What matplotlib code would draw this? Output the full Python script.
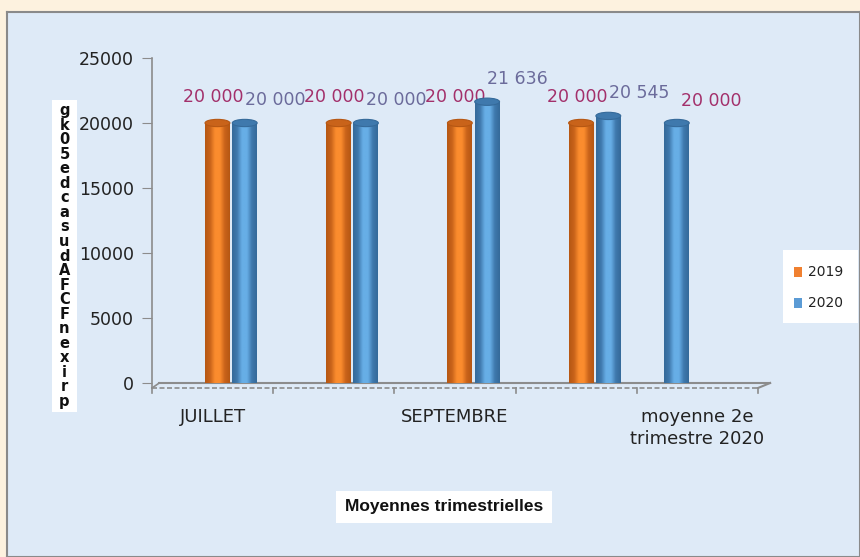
#!/usr/bin/env python3
"""Prix moyen du sac — moyennes trimestrielles 2019 / 2020 (barres cylindriques)."""

import numpy as np
import matplotlib.pyplot as plt
from matplotlib.patches import Rectangle, Ellipse
from matplotlib.colors import LinearSegmentedColormap

plt.rcParams['font.family'] = ['DejaVu Sans']

# ── données ─────────────────────────────────────────────
categories = ['JUILLET', 'AOUT', 'SEPTEMBRE', 'moyenne 3e trimestre',
              'moyenne 2e\ntrimestre 2020']
vals_2019 = [20000, 20000, 20000, 20000, None]
vals_2020 = [20000, 20000, 21636, 20545, None]
trim2_2020 = 20000          # seule valeur de la dernière catégorie
trim2_index = 4
y_ticks = [0, 5000, 10000, 15000, 20000, 25000]
ylabel_txt = 'prix en FCFA du sac de 50 kg'

W, H, DPI = 860, 557, 100
ORANGE = ('#b65713', '#fb8c2e', '#c9631a')
BLUE = ('#356a9a', '#67aee6', '#3f79ad')
LBL_19 = '#a3306b'
LBL_20 = '#6b6b9b'


def px(x, y, w, h):
    """rectangle en pixels (origine en haut à gauche) -> coord. figure"""
    return [x / W, 1 - (y + h) / H, w / W, h / H]


def cylinder(ax, xc, val, width, cols):
    lo, hi = xc - width / 2, xc + width / 2
    dark, light, mid = cols
    cmap = LinearSegmentedColormap.from_list('c', [dark, mid, light, light, mid, dark])
    rect = Rectangle((lo, 0), width, val, fc='none', ec='none')
    ax.add_patch(rect)
    grad = np.linspace(0, 1, 64).reshape(1, -1)
    im = ax.imshow(grad, cmap=cmap, aspect='auto', extent=(lo, hi, 0, val),
                   zorder=3, interpolation='bilinear')
    im.set_clip_path(rect)
    ax.add_patch(Ellipse((xc, val), width, 560, fc=mid, ec=dark, lw=0.8,
                         zorder=4))


fig = plt.figure(figsize=(W / DPI, H / DPI), dpi=DPI)
fig.patch.set_facecolor('#fdf2df')

# fond de la zone de graphique
bg = fig.add_axes(px(7, 12, 853, 545))
bg.set_facecolor('#deeaf7')
bg.set_xticks([])
bg.set_yticks([])
for s in bg.spines.values():
    s.set_color('#8a8a8a')
    s.set_linewidth(1.5)

ax = fig.add_axes(px(152, 58, 606, 330))
ax.set_facecolor('none')
ax.set_xlim(-0.5, len(categories) - 0.5)
ax.set_ylim(-385, 25000)
for s in ax.spines.values():
    s.set_visible(False)

# axe vertical
ax.plot([-0.5, -0.5], [-385, 25000], color='#8c8c8c', lw=1.2, clip_on=False)
ax.set_yticks(y_ticks)
ax.set_yticklabels([str(v) for v in y_ticks], fontsize=12.5, color='#222')
ax.tick_params(axis='y', length=7, color='#8c8c8c', pad=6)

# plancher 3D
ax.plot([-0.44, 4.6], [0, 0], color='#8c8c8c', lw=1.5, clip_on=False, zorder=2)
ax.plot([-0.5, -0.44], [-385, 0], color='#8c8c8c', lw=1.2, clip_on=False)
ax.plot([4.5, 4.6], [-385, 0], color='#8c8c8c', lw=1.5, clip_on=False)
ax.plot([-0.5, 4.5], [-385, -385], color='#8c8c8c', lw=1.2, ls=(0, (3, 1.5)),
        clip_on=False)
for b in np.arange(-0.5, len(categories), 1.0):
    ax.plot([b, b], [-385, -800], color='#8c8c8c', lw=1.2, clip_on=False)

# étiquettes de catégories (une sur deux affichée)
ax.set_xticks([])
for i in range(0, len(categories), 2):
    ax.text(i, -1900, categories[i], ha='center', va='top', fontsize=13,
            color='#222', linespacing=1.3)

bw = 0.205
off19, off20 = 0.04, 0.265
for i, (v19, v20) in enumerate(zip(vals_2019, vals_2020)):
    if v19 is not None:
        cylinder(ax, i + off19, v19, bw, ORANGE)
        ax.annotate(f'{v19:,}'.replace(',', ' '), (i + off19, v19),
                    xytext=(-3, 12), textcoords='offset points', ha='center',
                    va='bottom', fontsize=12.5, color=LBL_19)
    if v20 is not None:
        cylinder(ax, i + off20, v20, bw, BLUE)
        ax.annotate(f'{v20:,}'.replace(',', ' '), (i + off20, v20),
                    xytext=(22, 10), textcoords='offset points', ha='center',
                    va='bottom', fontsize=12.5, color=LBL_20)

xs = trim2_index - 0.17
cylinder(ax, xs, trim2_2020, bw, BLUE)
ax.annotate(f'{trim2_2020:,}'.replace(',', ' '), (xs, trim2_2020),
            xytext=(25, 9), textcoords='offset points', ha='center',
            va='bottom', fontsize=12.5, color=LBL_19)

# titre d'axe vertical (lettres empilées, comme l'original)
yl = fig.add_axes(px(52, 100, 25, 312))
yl.set_facecolor('white')
yl.set_xticks([])
yl.set_yticks([])
for s in yl.spines.values():
    s.set_visible(False)
chars = [c for c in ylabel_txt[::-1] if c != ' ']
for k, c in enumerate(chars):
    yl.text(0.5, 0.965 - k * 0.93 / (len(chars) - 1), c, ha='center',
            va='center', fontsize=10.5, fontweight='bold', color='#111',
            transform=yl.transAxes)

# légende
lg = fig.add_axes(px(783, 250, 75, 73))
lg.set_facecolor('white')
lg.set_xlim(0, 1)
lg.set_ylim(0, 1)
lg.set_xticks([])
lg.set_yticks([])
for s in lg.spines.values():
    s.set_visible(False)
for yy, col, name in [(0.70, '#f08030', '2019'), (0.27, '#5b9bd5', '2020')]:
    lg.add_patch(Rectangle((0.14, yy - 0.07), 0.11, 0.14, fc=col, ec='none'))
    lg.text(0.33, yy, name, va='center', fontsize=10, color='#222')

# titre d'axe horizontal
fig.text(444 / W, 1 - 507 / H, 'Moyennes trimestrielles', ha='center',
         va='center', fontsize=12.5, fontweight='bold', color='#111',
         family='Liberation Sans',
         bbox=dict(boxstyle='square,pad=0.5', fc='white', ec='none'))

fig.savefig('out.png', dpi=DPI, facecolor=fig.get_facecolor())
plt.close(fig)
